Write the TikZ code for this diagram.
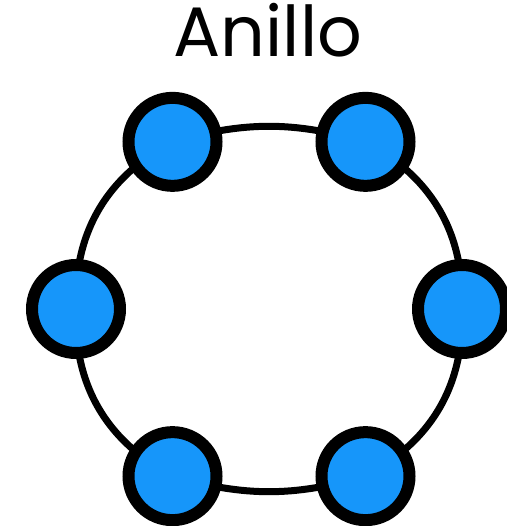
\documentclass[tikz,border=0pt]{standalone}
\usepackage{fontspec}
\setmainfont{Poppins}
\usepackage{tikz}
\usetikzlibrary{calc,backgrounds}
\definecolor{nodeblue}{RGB}{22,150,250}
\tikzset{
	station/.style={circle, draw=black, line width=12pt, fill=nodeblue, minimum size=88pt, inner sep=0pt},
	ring/.style={line width=7pt, bend left=32},
	flatring/.style={ring, bend left=16}
}

\begin{document}
\begin{tikzpicture}[x=1pt,y=1pt]
	\useasboundingbox (0,0) rectangle (506,526);
	\coordinate (O) at (269,217);
	\node [anchor=base] (title) at (268,469) {\fontsize{70}{72}\selectfont Anillo};

	\node [station] (L) at ($(O)+(180:193)$) {};
	\node [station] (TL) at ($(O)+(120:193)$) {};
	\node [station] (TR) at ($(O)+(60:193)$) {};
	\node [station] (R) at ($(O)+(0:193)$) {};
	\node [station] (BR) at ($(O)+(-60:193)$) {};
	\node [station] (BL) at ($(O)+(-120:193)$) {};

	\begin{scope}[on background layer]
	\draw[ring] (L.center) to (TL.center);
	\draw[flatring] (TL.center) to (TR.center);
	\draw[ring] (TR.center) to (R.center);
	\draw[ring] (R.center) to (BR.center);
	\draw[flatring] (BR.center) to (BL.center);
	\draw[ring] (BL.center) to (L.center);
	\end{scope}
\end{tikzpicture}
\end{document}
